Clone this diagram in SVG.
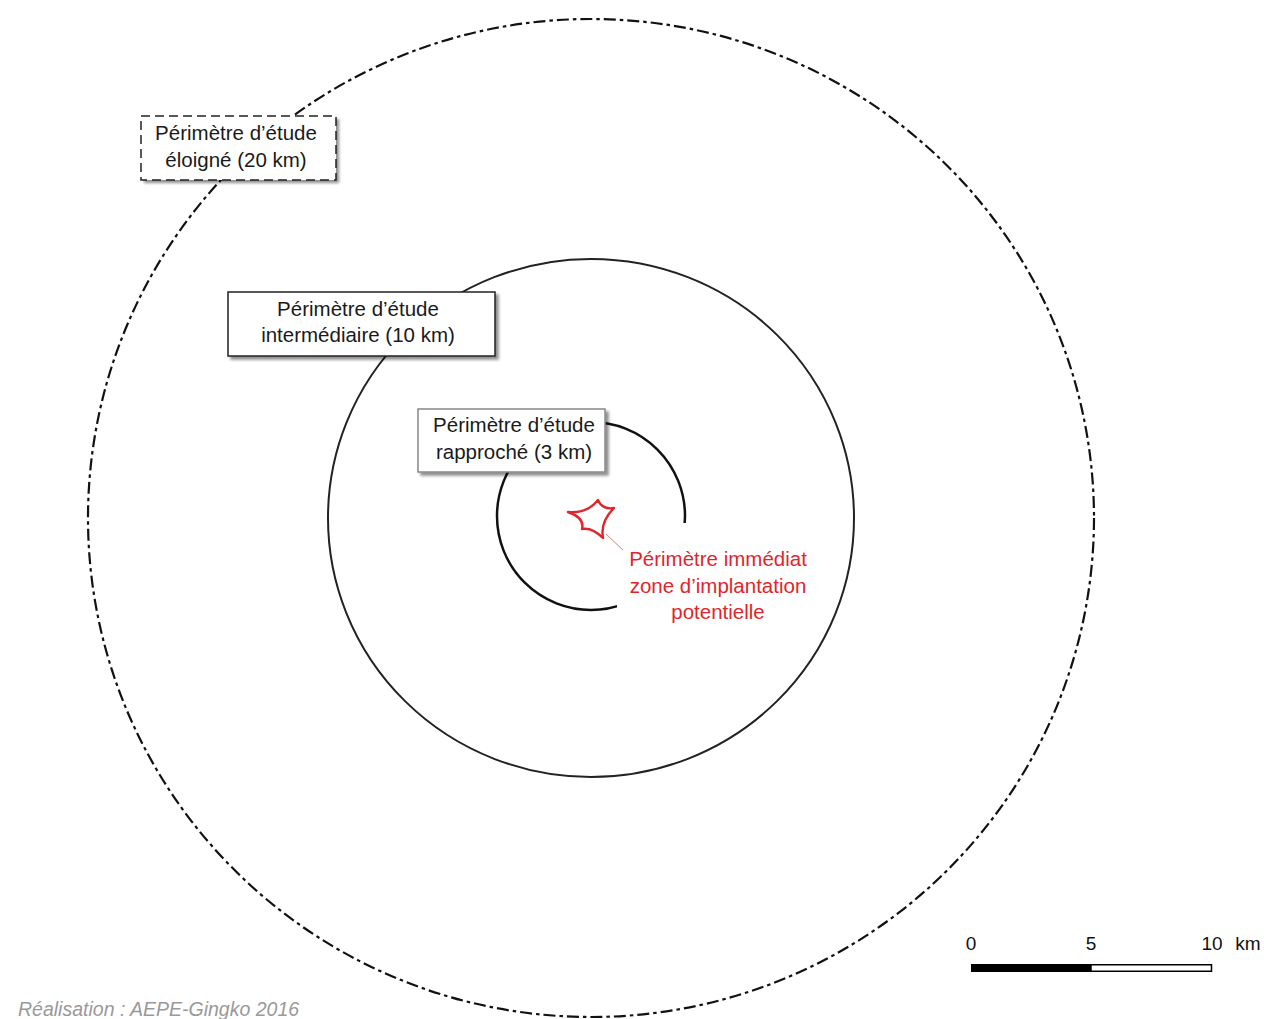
<svg xmlns="http://www.w3.org/2000/svg" width="1264" height="1019" viewBox="0 0 1264 1019">
<defs>
<filter id="sh" x="-10%" y="-10%" width="130%" height="140%">
<feGaussianBlur in="SourceAlpha" stdDeviation="1.5"/>
<feOffset dx="3" dy="3" result="b"/>
<feComponentTransfer><feFuncA type="linear" slope="0.45"/></feComponentTransfer>
<feMerge><feMergeNode/><feMergeNode in="SourceGraphic"/></feMerge>
</filter>
<style>
.t{font-family:"Liberation Sans",Arial,sans-serif;font-size:20.5px;fill:#1a1a1a;text-anchor:middle}
.r{font-family:"Liberation Sans",Arial,sans-serif;font-size:20.5px;fill:#e0262c;text-anchor:middle}
.s{font-family:"Liberation Sans",Arial,sans-serif;font-size:19px;fill:#111;text-anchor:middle}
.box{fill:#fff;stroke:#222;stroke-width:1.5}
</style>
</defs>
<rect width="1264" height="1019" fill="#fff"/>
<g id="connectors">
<ellipse id="outer" cx="591" cy="518" rx="503" ry="499" fill="none" stroke="#111" stroke-width="2.2" stroke-dasharray="12 4 3.5 4"/>
<ellipse id="middle" cx="591" cy="518" rx="263" ry="259" fill="none" stroke="#222" stroke-width="2"/>
<circle id="inner" cx="591" cy="516" r="94" fill="none" stroke="#111" stroke-width="2.5"/>
</g>
<g id="zone">
<path d="M568,512 Q587,514 598,500 Q602,510 614,508 Q600,522 603,538 Q592,527 582,529 Q585,518 568,512 Z" fill="none" stroke="#e0262c" stroke-width="2.4" stroke-linejoin="round"/>
</g>
<g id="label-immediat">
<rect x="617" y="523" width="196" height="104" fill="#fff"/>
<line x1="606" y1="534" x2="623" y2="550" stroke="#d88070" stroke-width="1"/>
<text class="r" x="718" y="566">Périmètre immédiat</text>
<text class="r" x="718" y="593">zone d’implantation</text>
<text class="r" x="718" y="619">potentielle</text>
</g>
<g id="box-eloigne">
<rect x="141" y="116" width="195" height="64" fill="#fff" filter="url(#sh)"/>
<rect x="141" y="116" width="195" height="64" fill="none" stroke="#222" stroke-width="1.5" stroke-dasharray="9 5"/>
<text class="t" x="236" y="140">Périmètre d’étude</text>
<text class="t" x="236" y="167">éloigné (20 km)</text>
</g>
<g id="box-intermediaire">
<rect class="box" x="228" y="292" width="267" height="64" filter="url(#sh)"/>
<text class="t" x="358" y="316">Périmètre d’étude</text>
<text class="t" x="358" y="342">intermédiaire (10 km)</text>
</g>
<g id="box-rapproche">
<rect x="418" y="409" width="187" height="63" fill="#fff" stroke="#888" stroke-width="1.5" filter="url(#sh)"/>
<text class="t" x="514" y="432">Périmètre d’étude</text>
<text class="t" x="514" y="459">rapproché (3 km)</text>
</g>
<g id="scale">
<rect x="971" y="964" width="120" height="8" fill="#000"/>
<rect x="1091" y="964.75" width="120.5" height="6.5" fill="#fff" stroke="#000" stroke-width="1.5"/>
<text class="s" x="971" y="950">0</text>
<text class="s" x="1091" y="950">5</text>
<text class="s" x="1212" y="950">10</text>
<text class="s" x="1248" y="950">km</text>
</g>
<text x="18" y="1016" font-family="'Liberation Sans',Arial,sans-serif" font-size="19.5" font-style="italic" fill="#999">Réalisation : AEPE-Gingko 2016</text>
</svg>
